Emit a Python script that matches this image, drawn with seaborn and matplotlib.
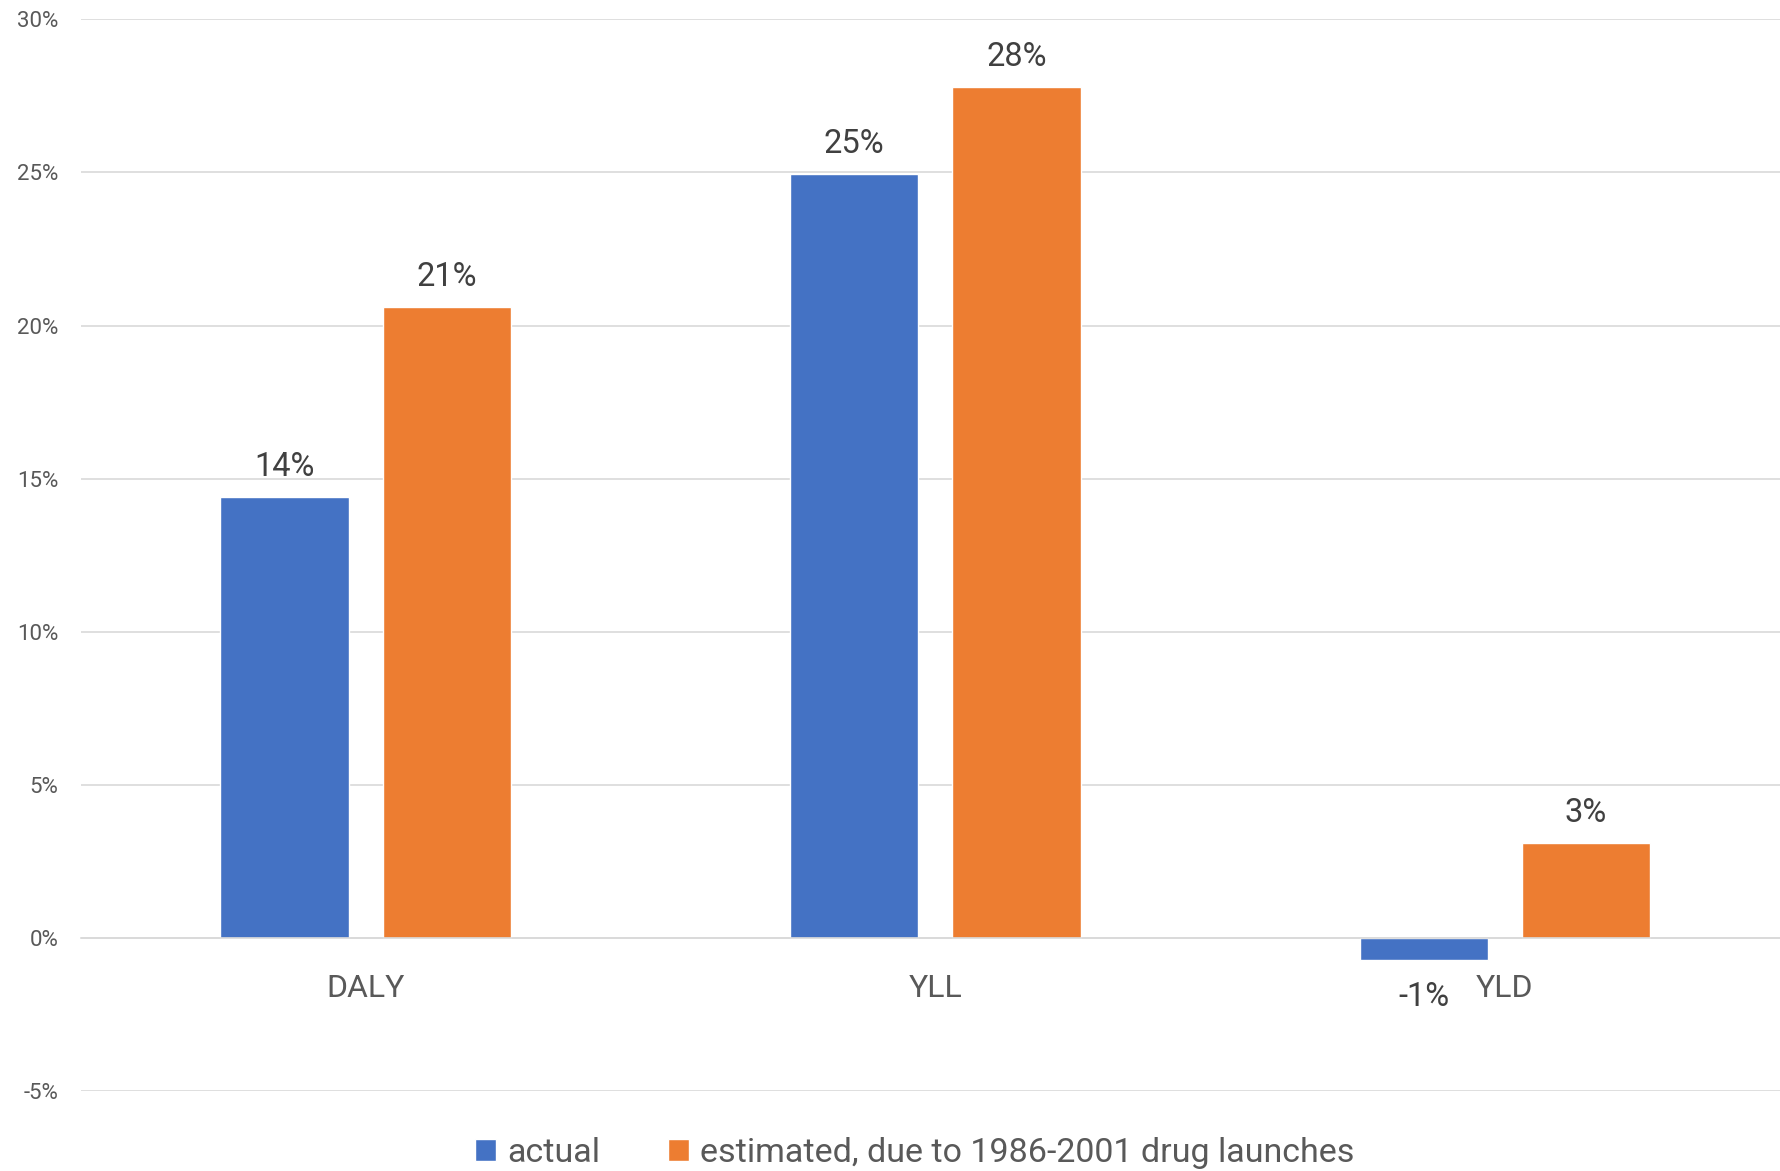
import matplotlib
matplotlib.use("Agg")
import matplotlib.pyplot as plt
from matplotlib.ticker import MultipleLocator, FuncFormatter
import pandas as pd
import seaborn as sns

# Change in burden measures (percent)
measures = ["DALY", "YLL", "YLD"]
series_names = ["actual", "estimated, due to 1986-2001 drug launches"]
actual = [14.4, 24.95, -0.7]
estimated = [20.6, 27.8, 3.1]

colors = ["#4472C4", "#ED7D31"]

df = pd.DataFrame({
    "measure": measures * 2,
    "series": [series_names[0]] * 3 + [series_names[1]] * 3,
    "value": actual + estimated,
})

sns.set_theme(style="white")
plt.rcParams["font.family"] = ["Roboto", "DejaVu Sans"]

fig = plt.figure(figsize=(17.81, 11.71), dpi=100)
ax = fig.add_axes([0.0454, 0.0679, 0.9595, 0.9156])

sns.barplot(data=df, x="measure", y="value", hue="series", order=measures,
            hue_order=series_names, palette=colors, width=0.57, gap=0.2105,
            saturation=1, ax=ax, legend=True)

ax.set_xlim(-0.5, 2.5)
ax.set_ylim(-5, 30)
ax.yaxis.set_major_locator(MultipleLocator(5))
ax.yaxis.set_major_formatter(FuncFormatter(lambda v, p: f"{v:.0f}%"))
ax.grid(axis="y", color="#D9D9D9", linewidth=1.2)
ax.set_axisbelow(True)
for s in ["top", "right", "left"]:
    ax.spines[s].set_visible(False)
ax.spines["bottom"].set_position(("data", 0))
ax.spines["bottom"].set_color("#D9D9D9")
ax.spines["bottom"].set_linewidth(1.2)
ax.tick_params(axis="y", length=0, pad=16, labelsize=16, labelcolor="#595959")
ax.tick_params(axis="x", length=0, pad=26, labelsize=23, labelcolor="#595959")
ax.set_xlabel("")
ax.set_ylabel("")

for cont in ax.containers:
    texts = ax.bar_label(cont, fmt="{:.0f}%", padding=10, fontsize=23.5, color="#404040")
    for t, v in zip(texts, cont.datavalues):
        if v < 0:
            t.xyann = (0, -15)

handles, labels = ax.get_legend_handles_labels()
ax.get_legend().remove()
fig.legend(handles, labels, loc="center", bbox_to_anchor=(915 / 1781, 1 - 1153 / 1171),
           ncol=2, frameon=False, fontsize=24.5, labelcolor="#595959",
           handlelength=0.62, handleheight=0.62, handletextpad=0.32,
           columnspacing=2.0)

fig.savefig("out.png", dpi=100)
